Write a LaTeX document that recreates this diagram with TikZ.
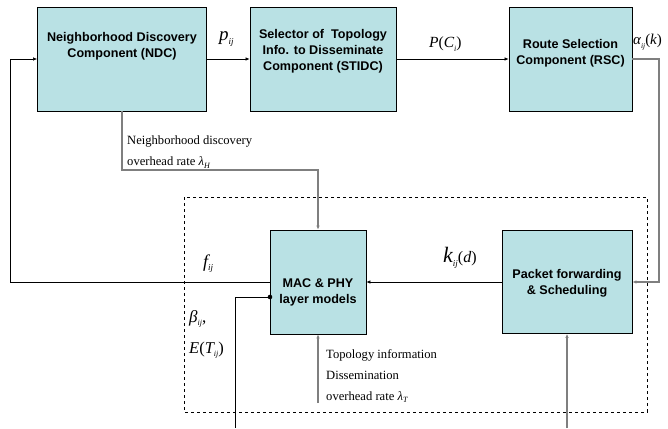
\documentclass[tikz,border=0pt]{standalone}
\usepackage{fontspec}
\setmainfont{Liberation Serif}
\setsansfont{Liberation Sans}
\usetikzlibrary{arrows.meta}
\definecolor{boxfill}{HTML}{B9E1E4}
\definecolor{lgray}{HTML}{7F7F7F}
\newcommand{\sbi}[2][8]{\raisebox{-0.45ex}{\fontsize{#1}{#1}\selectfont\itshape #2}}
\tikzset{
  comp/.style={draw, fill=boxfill, line width=0.8pt, inner sep=0pt},
  ctext/.style={font=\sffamily\bfseries\fontsize{12.6}{16}\selectfont, align=center, inner sep=0pt},
  rtext/.style={font=\fontsize{12.6}{21}\selectfont, align=left, inner sep=0pt, anchor=west},
  mlab/.style={inner sep=0pt},
  blk/.style={draw=black, line width=0.6pt},
  gry/.style={draw=lgray, line width=1.2pt},
  tip/.style={-{Latex[length=4pt,width=3.5pt]}},
}
\begin{document}
\begin{tikzpicture}[x=1pt,y=-1pt]
\useasboundingbox (0,0) rectangle (668,428);
% dashed frame
\draw[dashed, line width=0.6pt] (184,197) rectangle (647,412);
% boxes
\node[comp, minimum width=169pt, minimum height=104pt] (ndc) at (122,59) {};
\node[comp, minimum width=146pt, minimum height=104pt] (stidc) at (323,59) {};
\node[comp, minimum width=123pt, minimum height=104pt] (rsc) at (570.5,59) {};
\node[comp, minimum width=96pt, minimum height=104pt] (mac) at (318,282) {};
\node[comp, minimum width=130pt, minimum height=103pt] (pfs) at (567,282) {};
% box texts
\node[ctext] (ndct) at (122,46) {Neighborhood Discovery\\Component (NDC)};
\node[ctext] (stidct) at (323,51) {Selector of \ Topology\\Info. to Disseminate\\Component (STIDC)};
\node[ctext] (rsct) at (570.5,53) {Route Selection\\Component (RSC)};
\node[ctext] (mact) at (318,292) {MAC \& PHY\\layer models};
\node[ctext] (pfst) at (567,283) {Packet forwarding\\\& Scheduling};
% coordinates
\coordinate (c1) at (122,170);
\coordinate (c2) at (318,170);
\coordinate (c3) at (659,59);
\coordinate (c4) at (659,282);
\coordinate (c5) at (10,282);
\coordinate (c6) at (10,59);
\coordinate (dot) at (270,297);
\coordinate (c7) at (235,297);
\coordinate (c8) at (235,428);
\coordinate (c9) at (318,403);
\coordinate (c10) at (567,428);
% connectors
\draw[blk, tip] (ndc.east) -- (stidc.west);
\draw[blk, tip] (stidc.east) -- (rsc.west);
\draw[gry, tip] (ndc.south) -- (c1) -- (c2) -- (mac.north);
\draw[gry, tip] (rsc.east) -- (c3) -- (c4) -- (pfs.east);
\draw[blk, tip] (pfs.west) -- (mac.east);
\draw[blk, tip] (mac.west) -- (c5) -- (c6) -- (ndc.west);
\draw[blk] (dot) -- (c7) -- (c8);
\fill (dot) circle (2.3pt);
\draw[gry, tip] (c9) -- (mac.south);
\draw[gry, tip] (c10) -- (pfs.south);
% labels
\node[mlab, anchor=base west, font=\fontsize{19}{22}\selectfont] (lp) at (219,41) {\itshape p\sbi[9]{ij}};
\node[mlab, anchor=base west, font=\fontsize{15.5}{18}\selectfont] (lpc) at (429,48) {\itshape P\upshape(\itshape C\sbi{i}\upshape)};
\node[mlab, anchor=base west, font=\fontsize{15}{16}\selectfont] (la) at (633,45) {\itshape α\sbi[7.5]{ij}\upshape(\itshape k\upshape)};
\node[rtext] (lnd) at (127,152) {Neighborhood discovery\\overhead rate \itshape λ\sbi{H}};
\node[mlab, anchor=base west, font=\fontsize{18}{20}\selectfont] (lf) at (203,267) {\itshape f\sbi[9]{ij}};
\node[mlab, anchor=base west, font=\fontsize{22}{24}\selectfont] (lk) at (443,262) {\itshape k\sbi[9]{ij}\fontsize{16}{18}\selectfont\upshape(\itshape d\upshape)};
\node[mlab, anchor=base west, font=\fontsize{17}{20}\selectfont] (lb) at (189,322) {\itshape β\sbi{ij}\upshape,};
\node[mlab, anchor=base west, font=\fontsize{16.5}{20}\selectfont] (le) at (189,353) {\itshape E\upshape(\itshape T\sbi{ij}\upshape)};
\node[rtext] (ltop) at (326,376) {Topology information\\Dissemination\\overhead rate \itshape λ\sbi{T}};
\end{tikzpicture}
\end{document}
